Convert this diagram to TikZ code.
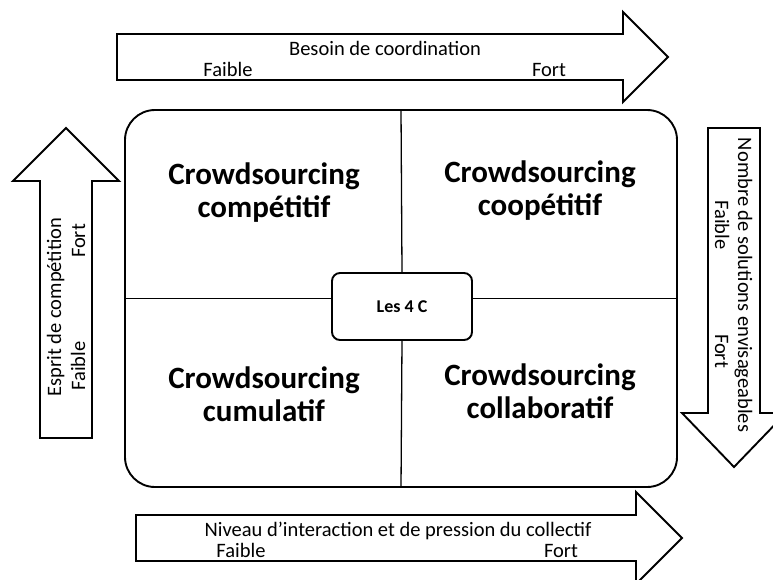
\documentclass[tikz,border=0pt]{standalone}
\usepackage{fontspec}
\setmainfont{Carlito}
\usetikzlibrary{positioning}
\tikzset{
  blockarrow/.style={draw, line width=1.9pt, line join=miter},
  axistext/.style={font=\fontsize{20.5}{22}\selectfont, anchor=base, inner sep=0pt},
  quadtext/.style={font=\bfseries\fontsize{31}{33}\selectfont, align=center},
  divider/.style={line width=1.3pt},
}

\begin{document}
\begin{tikzpicture}[x=1pt,y=-1pt]
  \useasboundingbox (0,0) rectangle (773,579);
  % the four block arrows
  \draw[blockarrow] (117,34) -- (623,34) -- (623,12) -- (668,57) -- (623,102) -- (623,80) -- (117,80) -- cycle;
  \draw[blockarrow] (136,515) -- (636,515) -- (636,492) -- (682,538) -- (636,584) -- (636,561) -- (136,561) -- cycle;
  \draw[blockarrow] (40,438) -- (40,181) -- (13,181) -- (66,128) -- (119,181) -- (92,181) -- (92,438) -- cycle;
  \draw[blockarrow] (708,128) -- (760,128) -- (760,413) -- (786,413) -- (734,467) -- (682,413) -- (708,413) -- cycle;
  % board and its four quadrants
  \node[draw, line width=1.9pt, rounded corners=30pt, inner sep=0pt,
        minimum width=552pt, minimum height=377pt] (board) at (401,298.5) {};
  \node[draw, line width=1.9pt, rounded corners=8pt, minimum width=140pt, minimum height=67pt,
        font=\bfseries\fontsize{18}{20}\selectfont] (core) at (402,306.5) {Les 4 C};
  \draw[divider] (board.north) -- (core.north);
  \draw[divider] (core.south) -- (board.south);
  \draw[divider] (board.west) -- (board.west -| core.west);
  \draw[divider] (board.east -| core.east) -- (board.east);
  \node[quadtext] (competitif) at (264,193) {Crowdsourcing\\comp\'etitif};
  \node[quadtext] (coopetitif) at (540,191) {Crowdsourcing\\coop\'etitif};
  \node[quadtext] (cumulatif) at (264,394) {Crowdsourcing\\cumulatif};
  \node[quadtext] (collaboratif) at (540,391) {Crowdsourcing\\collaboratif};
  % axis labels
  \node[axistext] (coordtitle) at (385,55) {Besoin de coordination};
  \node[axistext] (coordlow) at (228,76) {Faible};
  \node[axistext] (coordhigh) at (549,76) {Fort};
  \node[axistext] (presstitle) at (398,536) {Niveau d’interaction et de pression du collectif};
  \node[axistext] (presslow) at (241,557) {Faible};
  \node[axistext] (presshigh) at (561,557) {Fort};
  \node[axistext, rotate=90] (comptitle) at (61,307) {Esprit de comp\'etition};
  \node[axistext, rotate=90] (comphigh) at (85,241) {Fort};
  \node[axistext, rotate=90] (complow) at (85,366) {Faible};
  \node[axistext, rotate=-90] (soltitle) at (738,285) {Nombre de solutions envisageables};
  \node[axistext, rotate=-90] (sollow) at (715,225) {Faible};
  \node[axistext, rotate=-90] (solhigh) at (715,351) {Fort};
\end{tikzpicture}
\end{document}
